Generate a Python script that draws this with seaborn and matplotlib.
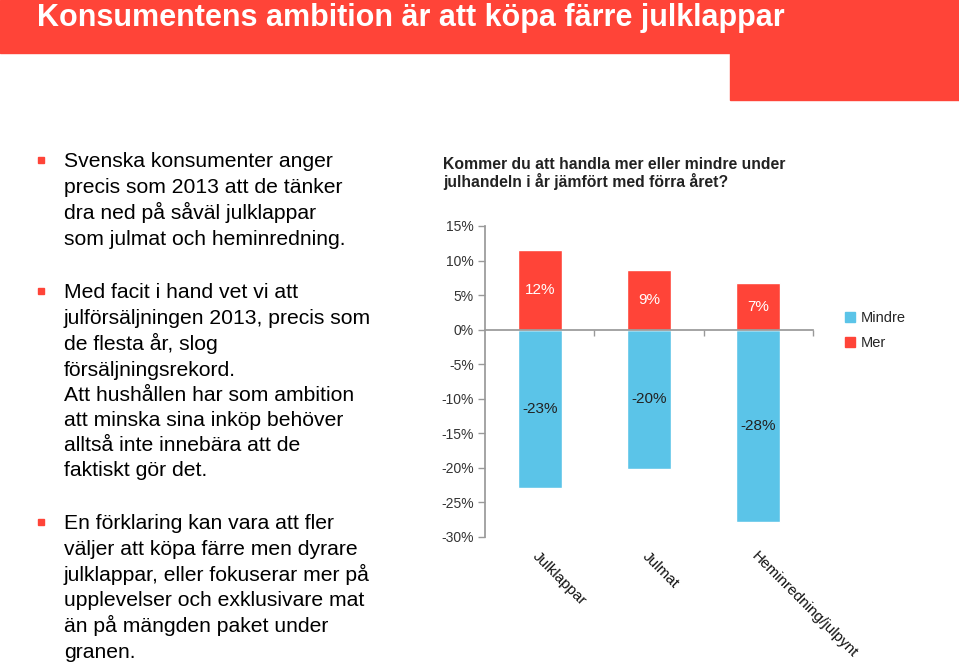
import matplotlib
matplotlib.use("Agg")
import matplotlib.pyplot as plt
import matplotlib.patches as mpatches
from matplotlib.ticker import FixedLocator
import seaborn as sns
import pandas as pd

# ---- data ----
categories = ["Julklappar", "Julmat", "Heminredning/julpynt"]
mer = [11.5, 8.7, 6.7]
mindre = [-22.9, -20.2, -27.9]
mer_labels = ["12%", "9%", "7%"]
mindre_labels = ["-23%", "-20%", "-28%"]
series = ["Mindre", "Mer"]
yticks = [15, 10, 5, 0, -5, -10, -15, -20, -25, -30]

title = "Konsumentens ambition är att köpa färre julklappar"
chart_title = ["Kommer du att handla mer eller mindre under",
               "julhandeln i år jämfört med förra året?"]
bullets = [
    ["Svenska konsumenter anger", "precis som 2013 att de tänker",
     "dra ned på såväl julklappar", "som julmat och heminredning."],
    ["Med facit i hand vet vi att", "julförsäljningen 2013, precis som",
     "de flesta år, slog", "försäljningsrekord.",
     "Att hushållen har som ambition", "att minska sina inköp behöver",
     "alltså inte innebära att de", "faktiskt gör det."],
    ["En förklaring kan vara att fler", "väljer att köpa färre men dyrare",
     "julklappar, eller fokuserar mer på", "upplevelser och exklusivare mat",
     "än på mängden paket under", "granen."],
]
bullet_line_y = [[160, 186, 212, 238],
                 [291, 317, 343, 369, 394, 419, 444, 469],
                 [522, 548, 574, 599, 625, 651]]

RED = "#FF4438"
BLUE = "#5BC4E8"
W, H = 959, 663

sns.set_theme(style="white")
plt.rcParams["font.family"] = ["Liberation Sans", "DejaVu Sans"]

fig = plt.figure(figsize=(W / 100, H / 100), dpi=100)

# ---- slide header ----
fig.patches.append(mpatches.Rectangle((0, 1 - 53 / H), 1, 53 / H,
                                      transform=fig.transFigure, color=RED, zorder=0))
fig.patches.append(mpatches.Rectangle((730 / W, 1 - 100 / H), (W - 730) / W, 48 / H,
                                      transform=fig.transFigure, color=RED, zorder=0))
fig.text(37 / W, 1 - 26 / H, title, color="white", fontsize=22, fontweight="bold",
         va="baseline", ha="left")

# ---- bullets ----
for lines, ys in zip(bullets, bullet_line_y):
    fig.patches.append(mpatches.Rectangle((38 / W, 1 - (ys[0] + 3) / H), 6 / W, 6 / H,
                                          transform=fig.transFigure, color=RED))
    for line, y in zip(lines, ys):
        fig.text(64 / W, 1 - (y + 7) / H, line, fontsize=15.25, color="black",
                 va="baseline", ha="left")

# ---- chart title ----
for line, y in zip(chart_title, [164, 182]):
    fig.text(443 / W, 1 - (y + 5) / H, line, fontsize=11.3, fontweight="bold",
             color="#222222", va="baseline", ha="left")

# ---- bar chart ----
ax = fig.add_axes([485 / W, 1 - 537 / H, (813 - 485) / W, (537 - 226) / H])
df = pd.DataFrame({
    "Kategori": categories * 2,
    "Serie": ["Mindre"] * len(categories) + ["Mer"] * len(categories),
    "Värde": mindre + mer,
})
sns.barplot(data=df, x="Kategori", y="Värde", hue="Serie", hue_order=series,
            order=categories, palette=[BLUE, RED], dodge=False, width=0.4,
            saturation=1, ax=ax, legend=False)

for cont, labs, col in zip(ax.containers, [mindre_labels, mer_labels], ["#222222", "white"]):
    ax.bar_label(cont, labels=labs, label_type="center", color=col, fontsize=11)

ax.set_ylim(-30, 15)
ax.set_xlim(-0.5, 2.5)
ax.set_yticks(yticks)
ax.set_yticklabels([f"{v}%" for v in yticks], fontsize=10, color="#333333")
ax.set_xlabel("")
ax.set_ylabel("")
for s in ["top", "right"]:
    ax.spines[s].set_visible(False)
ax.spines["left"].set_color("#999999")
ax.spines["bottom"].set_position(("data", 0))
ax.spines["bottom"].set_color("#999999")
ax.tick_params(axis="y", left=True, length=5, color="#999999", width=1, pad=3)
ax.xaxis.set_major_locator(FixedLocator([]))
ax.xaxis.set_minor_locator(FixedLocator([0.5, 1.5, 2.5]))
ax.tick_params(axis="x", which="minor", bottom=True, length=4, color="#999999")

sec = ax.secondary_xaxis(0.0)
sec.set_xticks(range(len(categories)))
sec.set_xticklabels(categories, rotation=-45, ha="left", va="top",
                    rotation_mode="anchor", fontsize=11, color="#111111")
sec.tick_params(length=0, pad=9)
sec.spines["bottom"].set_visible(False)

# ---- legend ----
handles = [mpatches.Patch(color=BLUE, label="Mindre"), mpatches.Patch(color=RED, label="Mer")]
fig.legend(handles=handles, loc="upper left", bbox_to_anchor=(845 / W, 1 - 311 / H),
           frameon=False, fontsize=10.5, handlelength=0.7, handleheight=0.7,
           handletextpad=0.4, labelspacing=0.75, borderaxespad=0, borderpad=0)

fig.savefig("out.png", dpi=100)
